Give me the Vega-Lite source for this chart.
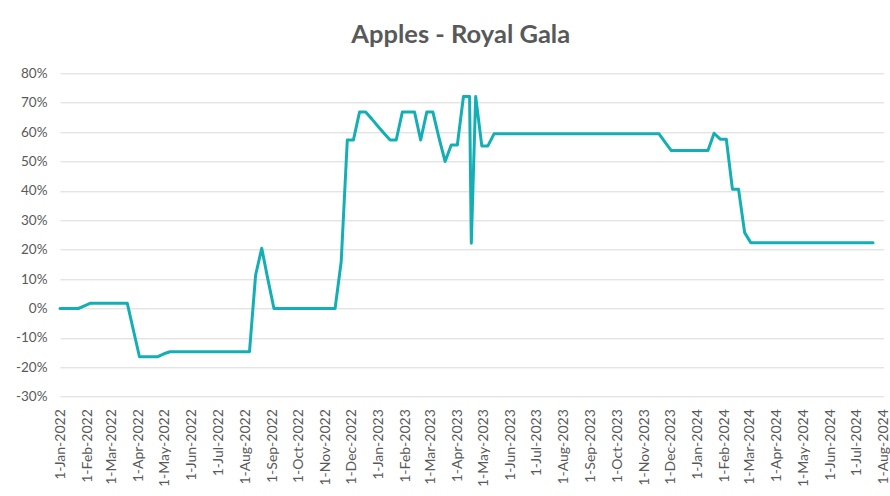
{
  "$schema": "https://vega.github.io/schema/vega-lite/v6.json",
  "autosize": {"type": "none"},
  "width": 823.5,
  "height": 323.4,
  "padding": {"left": 60, "top": 73.3, "right": 6.5, "bottom": 99.3},
  "background": "white",
  "config": {
    "view": {"stroke": null},
    "locale": {"number": {"decimal": ".", "thousands": ",", "grouping": [3], "currency": ["$", ""], "minus": "-", "percent": "%"}}
  },
  "title": {
    "text": "Apples - Royal Gala",
    "font": "Lato",
    "fontSize": 25.5,
    "fontWeight": "bold",
    "color": "#595959",
    "anchor": "middle",
    "frame": "group",
    "dx": -11,
    "offset": 18
  },
  "data": {
    "values": [
      {"date": "2022-01-01", "value": 0},
      {"date": "2022-01-08", "value": 0},
      {"date": "2022-01-15", "value": 0},
      {"date": "2022-01-22", "value": 0},
      {"date": "2022-01-29", "value": 0.009},
      {"date": "2022-02-05", "value": 0.018},
      {"date": "2022-02-12", "value": 0.018},
      {"date": "2022-02-19", "value": 0.018},
      {"date": "2022-02-26", "value": 0.018},
      {"date": "2022-03-05", "value": 0.018},
      {"date": "2022-03-12", "value": 0.018},
      {"date": "2022-03-19", "value": 0.018},
      {"date": "2022-03-26", "value": -0.073},
      {"date": "2022-04-02", "value": -0.164},
      {"date": "2022-04-09", "value": -0.164},
      {"date": "2022-04-16", "value": -0.164},
      {"date": "2022-04-23", "value": -0.164},
      {"date": "2022-04-30", "value": -0.154},
      {"date": "2022-05-07", "value": -0.147},
      {"date": "2022-05-14", "value": -0.147},
      {"date": "2022-05-21", "value": -0.147},
      {"date": "2022-05-28", "value": -0.147},
      {"date": "2022-06-04", "value": -0.147},
      {"date": "2022-06-11", "value": -0.147},
      {"date": "2022-06-18", "value": -0.147},
      {"date": "2022-06-25", "value": -0.147},
      {"date": "2022-07-02", "value": -0.147},
      {"date": "2022-07-09", "value": -0.147},
      {"date": "2022-07-16", "value": -0.147},
      {"date": "2022-07-23", "value": -0.147},
      {"date": "2022-07-30", "value": -0.147},
      {"date": "2022-08-06", "value": -0.147},
      {"date": "2022-08-13", "value": 0.114},
      {"date": "2022-08-20", "value": 0.205},
      {"date": "2022-08-27", "value": 0.1},
      {"date": "2022-09-03", "value": 0},
      {"date": "2022-09-10", "value": 0},
      {"date": "2022-09-17", "value": 0},
      {"date": "2022-09-24", "value": 0},
      {"date": "2022-10-01", "value": 0},
      {"date": "2022-10-08", "value": 0},
      {"date": "2022-10-15", "value": 0},
      {"date": "2022-10-22", "value": 0},
      {"date": "2022-10-29", "value": 0},
      {"date": "2022-11-05", "value": 0},
      {"date": "2022-11-12", "value": 0},
      {"date": "2022-11-19", "value": 0.159},
      {"date": "2022-11-26", "value": 0.573},
      {"date": "2022-12-03", "value": 0.573},
      {"date": "2022-12-10", "value": 0.668},
      {"date": "2022-12-17", "value": 0.668},
      {"date": "2022-12-24", "value": 0.645},
      {"date": "2022-12-31", "value": 0.62},
      {"date": "2023-01-07", "value": 0.596},
      {"date": "2023-01-14", "value": 0.573},
      {"date": "2023-01-21", "value": 0.573},
      {"date": "2023-01-28", "value": 0.668},
      {"date": "2023-02-04", "value": 0.668},
      {"date": "2023-02-11", "value": 0.668},
      {"date": "2023-02-18", "value": 0.573},
      {"date": "2023-02-25", "value": 0.668},
      {"date": "2023-03-04", "value": 0.668},
      {"date": "2023-03-11", "value": 0.58},
      {"date": "2023-03-18", "value": 0.5},
      {"date": "2023-03-25", "value": 0.556},
      {"date": "2023-04-01", "value": 0.556},
      {"date": "2023-04-08", "value": 0.721},
      {"date": "2023-04-15", "value": 0.721},
      {"date": "2023-04-17", "value": 0.222},
      {"date": "2023-04-22", "value": 0.721},
      {"date": "2023-04-29", "value": 0.553},
      {"date": "2023-05-06", "value": 0.553},
      {"date": "2023-05-13", "value": 0.594},
      {"date": "2023-05-20", "value": 0.594},
      {"date": "2023-05-27", "value": 0.594},
      {"date": "2023-06-03", "value": 0.594},
      {"date": "2023-06-10", "value": 0.594},
      {"date": "2023-06-17", "value": 0.594},
      {"date": "2023-06-24", "value": 0.594},
      {"date": "2023-07-01", "value": 0.594},
      {"date": "2023-07-08", "value": 0.594},
      {"date": "2023-07-15", "value": 0.594},
      {"date": "2023-07-22", "value": 0.594},
      {"date": "2023-07-29", "value": 0.594},
      {"date": "2023-08-05", "value": 0.594},
      {"date": "2023-08-12", "value": 0.594},
      {"date": "2023-08-19", "value": 0.594},
      {"date": "2023-08-26", "value": 0.594},
      {"date": "2023-09-02", "value": 0.594},
      {"date": "2023-09-09", "value": 0.594},
      {"date": "2023-09-16", "value": 0.594},
      {"date": "2023-09-23", "value": 0.594},
      {"date": "2023-09-30", "value": 0.594},
      {"date": "2023-10-07", "value": 0.594},
      {"date": "2023-10-14", "value": 0.594},
      {"date": "2023-10-21", "value": 0.594},
      {"date": "2023-10-28", "value": 0.594},
      {"date": "2023-11-04", "value": 0.594},
      {"date": "2023-11-11", "value": 0.594},
      {"date": "2023-11-18", "value": 0.594},
      {"date": "2023-11-25", "value": 0.565},
      {"date": "2023-12-02", "value": 0.537},
      {"date": "2023-12-09", "value": 0.537},
      {"date": "2023-12-16", "value": 0.537},
      {"date": "2023-12-23", "value": 0.537},
      {"date": "2023-12-30", "value": 0.537},
      {"date": "2024-01-06", "value": 0.537},
      {"date": "2024-01-13", "value": 0.537},
      {"date": "2024-01-20", "value": 0.596},
      {"date": "2024-01-27", "value": 0.576},
      {"date": "2024-02-03", "value": 0.576},
      {"date": "2024-02-10", "value": 0.406},
      {"date": "2024-02-17", "value": 0.406},
      {"date": "2024-02-24", "value": 0.258},
      {"date": "2024-03-02", "value": 0.224},
      {"date": "2024-03-09", "value": 0.224},
      {"date": "2024-03-16", "value": 0.224},
      {"date": "2024-03-23", "value": 0.224},
      {"date": "2024-03-30", "value": 0.224},
      {"date": "2024-04-06", "value": 0.224},
      {"date": "2024-04-13", "value": 0.224},
      {"date": "2024-04-20", "value": 0.224},
      {"date": "2024-04-27", "value": 0.224},
      {"date": "2024-05-04", "value": 0.224},
      {"date": "2024-05-11", "value": 0.224},
      {"date": "2024-05-18", "value": 0.224},
      {"date": "2024-05-25", "value": 0.224},
      {"date": "2024-06-01", "value": 0.224},
      {"date": "2024-06-08", "value": 0.224},
      {"date": "2024-06-15", "value": 0.224},
      {"date": "2024-06-22", "value": 0.224},
      {"date": "2024-06-29", "value": 0.224},
      {"date": "2024-07-06", "value": 0.224},
      {"date": "2024-07-13", "value": 0.224},
      {"date": "2024-07-20", "value": 0.224}
    ]
  },
  "mark": {"type": "line", "color": "#14AFB5", "strokeWidth": 3, "strokeJoin": "round", "strokeCap": "round"},
  "encoding": {
    "x": {
      "field": "date",
      "type": "temporal",
      "scale": {"type": "utc", "domain": ["2022-01-01", "2024-08-01"], "nice": false},
      "axis": {
        "title": null,
        "labelExpr": "utcFormat(datum.value, '%-d-%b-%Y')",
        "tickCount": {"interval": "month", "step": 1},
        "labelAngle": 270,
        "labelAlign": "right",
        "labelBaseline": "middle",
        "labelPadding": 12,
        "labelFont": "Lato",
        "labelFontSize": 14,
        "labelColor": "#595959",
        "labelOverlap": false,
        "labelBound": false,
        "labelFlush": false,
        "grid": false,
        "ticks": false,
        "domain": false
      }
    },
    "y": {
      "field": "value",
      "type": "quantitative",
      "scale": {"domain": [-0.3, 0.8], "nice": false, "zero": false},
      "axis": {
        "title": null,
        "format": ".0%",
        "values": [-0.3, -0.2, -0.1, 0, 0.1, 0.2, 0.3, 0.4, 0.5, 0.6, 0.7, 0.8],
        "labelFont": "Lato",
        "labelFontSize": 13.5,
        "labelColor": "#595959",
        "labelPadding": 13,
        "gridColor": "#D9D9D9",
        "gridWidth": 1,
        "ticks": false,
        "domain": false
      }
    }
  }
}
